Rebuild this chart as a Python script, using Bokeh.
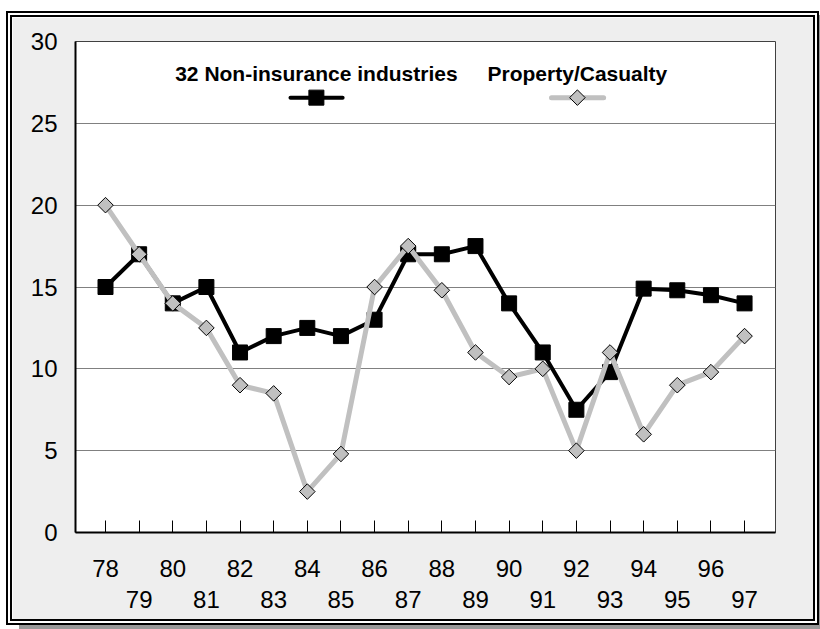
from bokeh.plotting import figure
from bokeh.models import Range1d, FixedTicker, LinearAxis
from bokeh.core.properties import value
from bokeh.embed import file_html
from bokeh.resources import INLINE

years = ["78", "79", "80", "81", "82", "83", "84", "85", "86", "87",
         "88", "89", "90", "91", "92", "93", "94", "95", "96", "97"]
non_insurance = [15, 17, 14, 15, 11, 12, 12.5, 12, 13, 17,
                 17, 17.5, 14, 11, 7.5, 9.8, 14.9, 14.8, 14.5, 14]
property_casualty = [20, 17, 14, 12.5, 9, 8.5, 2.5, 4.8, 15, 17.5,
                     14.8, 11, 9.5, 10, 5, 11, 6, 9, 9.8, 12]
y_ticks = [0, 5, 10, 15, 20, 25, 30]
series_names = ["32 Non-insurance industries", "Property/Casualty"]

xs = list(range(len(years)))
FONT = "Liberation Sans"

p = figure(width=813, height=614, output_backend="svg", toolbar_location=None,
           x_range=Range1d(-0.892, 19.92), y_range=Range1d(0, 30),
           min_border_left=63, min_border_right=50, min_border_top=24,
           min_border_bottom=99)
p.styles = {"border": "6px double black", "margin-left": "6px",
            "margin-top": "11px", "box-shadow": "13px 4px 0 #999999"}
p.border_fill_color = "#eeeeee"
p.background_fill_color = "white"
p.outline_line_color = "#404040"
p.outline_line_width = 1

# y axis
p.yaxis.ticker = FixedTicker(ticks=y_ticks)
p.yaxis.major_tick_line_color = None
p.yaxis.minor_tick_line_color = None
p.yaxis.axis_line_color = "black"
p.yaxis.axis_line_width = 2
p.yaxis.major_label_text_font = FONT
p.yaxis.major_label_text_font_size = "24px"
p.yaxis.major_label_text_color = "black"
p.yaxis.major_label_standoff = 12

# grid
p.xgrid.grid_line_color = None
p.ygrid.ticker = FixedTicker(ticks=y_ticks[1:-1])
p.ygrid.grid_line_color = "#808080"
p.ygrid.grid_line_width = 1

# x axis (even labels)
p.xaxis.ticker = FixedTicker(ticks=xs)
p.xaxis.major_label_overrides = {i: (years[i] if i % 2 == 0 else "") for i in xs}
p.xaxis.major_tick_in = 12
p.xaxis.major_tick_out = 0
p.xaxis.major_tick_line_color = "black"
p.xaxis.minor_tick_line_color = None
p.xaxis.axis_line_color = "black"
p.xaxis.axis_line_width = 2
p.xaxis.major_label_text_font = FONT
p.xaxis.major_label_text_font_size = "24px"
p.xaxis.major_label_text_color = "black"
p.xaxis.major_label_standoff = 27

# second row of x labels (odd)
odd = [i for i in xs if i % 2 == 1]
ax2 = LinearAxis(ticker=FixedTicker(ticks=odd),
                 major_label_overrides={i: years[i] for i in odd})
ax2.axis_line_color = None
ax2.major_tick_line_color = None
ax2.minor_tick_line_color = None
ax2.major_label_text_font = FONT
ax2.major_label_text_font_size = "24px"
ax2.major_label_text_color = "black"
ax2.major_label_standoff = 5
p.add_layout(ax2, "below")

# series
p.line(xs, non_insurance, line_color="black", line_width=4)
p.scatter(xs, non_insurance, marker="square", size=15, fill_color="black",
          line_color="black")
p.line(xs, property_casualty, line_color="#c0c0c0", line_width=5)
p.scatter(xs, property_casualty, marker="square", angle=0.7853981634, size=11,
          fill_color="#c0c0c0", line_color="black", line_width=1)

# legend (drawn manually: label above sample)
leg_y_text = 28.04
leg_y_line = 26.57
p.text(x=[6.27], y=[leg_y_text], text=[series_names[0]], text_align="center",
       text_baseline="middle", text_font=value(FONT), text_font_style="bold",
       text_font_size="21px", text_color="black")
p.text(x=[14.03], y=[leg_y_text], text=[series_names[1]], text_align="center",
       text_baseline="middle", text_font=value(FONT), text_font_style="bold",
       text_font_size="21px", text_color="black")
p.line([5.5, 7.05], [leg_y_line, leg_y_line], line_color="black", line_width=4,
       line_cap="round")
p.scatter([6.27], [leg_y_line], marker="square", size=15, fill_color="black",
          line_color="black")
p.line([13.26, 14.81], [leg_y_line, leg_y_line], line_color="#c0c0c0",
       line_width=5, line_cap="round")
p.scatter([14.03], [leg_y_line], marker="square", angle=0.7853981634, size=11,
          fill_color="#c0c0c0", line_color="black", line_width=1)

open("out.html", "w").write(file_html(p, INLINE))
